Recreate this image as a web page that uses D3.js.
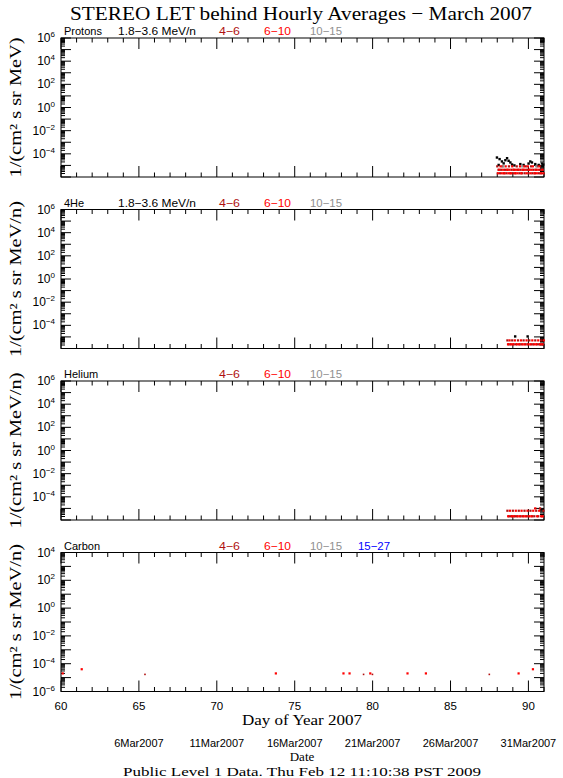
<!DOCTYPE html>
<html><head><meta charset="utf-8">
<script src="https://cdn.jsdelivr.net/npm/d3@7"></script>
<style>body{margin:0;background:#fff}svg{display:block}</style>
</head><body><svg id="c" width="563" height="778"></svg>
<script>
// ---------- data ----------
const title = "STEREO LET behind Hourly Averages \u2212 March 2007";
const panelNames = ["Protons", "4He", "Helium", "Carbon"];
const yTitles = ["1/(cm\u00b2 s sr MeV)", "1/(cm\u00b2 s sr MeV/n)", "1/(cm\u00b2 s sr MeV/n)", "1/(cm\u00b2 s sr MeV/n)"];
const energyLabels = ["1.8\u22123.6 MeV/n", "4\u22126", "6\u221210", "10\u221215", "15\u221227"];
const seriesColors = ["#000000", "#b01010", "#ff0000", "#909090", "#0000ff"];
const panelSeries = [[0,1,2,3],[0,1,2,3],[1,2,3],[1,2,3,4]];
const yDomains = [[1e-6,1e6],[1e-6,1e6],[1e-6,1e6],[1e-6,1e4]];
const dayTicks = [60,65,70,75,80,85,90];
const dateLabels = ["6Mar2007","11Mar2007","16Mar2007","21Mar2007","26Mar2007","31Mar2007"];
const dateDays = [65,70,75,80,85,90];

// Protons
const protons18 = [[87.98,4.8e-5],[88.09,1.1e-5],[88.15,3.5e-5],[88.30,2.2e-5],[88.41,1.5e-5],[88.52,2.8e-5],[88.63,4.2e-5],[88.73,2.5e-5],[88.84,1.8e-5],[88.95,1.2e-5],[89.10,1.0e-5],[89.48,1.3e-5],[89.69,1.1e-5],[90.01,1.45e-5],[90.12,2.2e-5],[90.23,1.8e-5],[90.44,1.3e-5],[90.66,1.1e-5],[90.87,1.45e-5],[90.95,1.2e-5]];
const protons46 = [[88.00,8.3e-6],[88.08,4.2e-6],[88.17,2.1e-6],[88.25,4.2e-6],[88.33,8.3e-6],[88.42,2.1e-6],[88.50,4.2e-6],[88.58,2.1e-6],[88.67,4.2e-6],[88.75,8.3e-6],[88.83,2.1e-6],[88.92,4.2e-6],[89.00,2.1e-6],[89.08,4.2e-6],[89.17,2.1e-6],[89.25,8.3e-6],[89.33,4.2e-6],[89.42,2.1e-6],[89.50,4.2e-6],[89.58,2.1e-6],[89.67,4.2e-6],[89.75,2.1e-6],[89.83,8.3e-6],[89.92,4.2e-6],[90.00,2.1e-6],[90.08,4.2e-6],[90.17,8.3e-6],[90.25,2.1e-6],[90.33,4.2e-6],[90.42,2.1e-6],[90.50,4.2e-6],[90.58,8.3e-6],[90.67,2.1e-6],[90.75,4.2e-6],[90.83,2.1e-6],[90.92,4.2e-6]];
const protons610 = [[88.04,2.1e-6],[88.13,4.2e-6],[88.21,8.3e-6],[88.29,2.1e-6],[88.38,4.2e-6],[88.46,2.1e-6],[88.54,8.3e-6],[88.63,4.2e-6],[88.71,2.1e-6],[88.79,4.2e-6],[88.88,2.1e-6],[88.96,8.3e-6],[89.04,4.2e-6],[89.13,2.1e-6],[89.21,4.2e-6],[89.29,2.1e-6],[89.38,4.2e-6],[89.46,8.3e-6],[89.54,2.1e-6],[89.63,4.2e-6],[89.71,8.3e-6],[89.79,4.2e-6],[89.88,2.1e-6],[89.96,8.3e-6],[90.04,4.2e-6],[90.13,2.1e-6],[90.21,4.2e-6],[90.29,8.3e-6],[90.38,2.1e-6],[90.46,4.2e-6],[90.54,2.1e-6],[90.63,4.2e-6],[90.71,8.3e-6],[90.79,2.1e-6],[90.88,4.2e-6],[90.96,2.1e-6]];
const protons1015 = [[88.40,8.3e-6],[89.60,8.3e-6],[90.50,8.3e-6]];
// 4He
const he4_18 = [[89.15,1.1e-5],[89.95,1.1e-5]];
const he4_46 = [[88.65,5.0e-6],[88.73,2.3e-6],[88.85,2.3e-6],[88.96,5.0e-6],[89.06,2.3e-6],[89.21,2.3e-6],[89.33,5.0e-6],[89.44,2.3e-6],[89.56,2.3e-6],[89.69,5.0e-6],[89.81,2.3e-6],[89.94,2.3e-6],[90.06,5.0e-6],[90.19,2.3e-6],[90.31,2.3e-6],[90.44,5.0e-6],[90.56,2.3e-6],[90.69,2.3e-6],[90.81,5.0e-6],[90.94,2.3e-6]];
const he4_610 = [[88.69,2.3e-6],[88.79,5.0e-6],[88.90,2.3e-6],[89.02,2.3e-6],[89.13,5.0e-6],[89.27,2.3e-6],[89.40,2.3e-6],[89.52,5.0e-6],[89.63,2.3e-6],[89.75,2.3e-6],[89.88,5.0e-6],[90.00,2.3e-6],[90.13,2.3e-6],[90.25,5.0e-6],[90.38,2.3e-6],[90.50,2.3e-6],[90.63,5.0e-6],[90.75,2.3e-6],[90.88,2.3e-6],[90.98,5.0e-6]];
// Helium
const hel_46 = [[88.65,6.3e-6],[88.75,2.1e-6],[88.88,2.1e-6],[89.00,6.3e-6],[89.13,2.1e-6],[89.25,2.1e-6],[89.38,6.3e-6],[89.50,2.1e-6],[89.63,2.1e-6],[89.75,6.3e-6],[89.88,2.1e-6],[90.00,2.1e-6],[90.13,6.3e-6],[90.25,2.1e-6],[90.38,2.1e-6],[90.50,6.3e-6],[90.63,2.1e-6],[90.75,1.0e-5],[90.88,2.1e-6],[90.96,6.3e-6]];
const hel_610 = [[88.70,2.1e-6],[88.81,6.3e-6],[88.94,2.1e-6],[89.06,2.1e-6],[89.19,6.3e-6],[89.31,2.1e-6],[89.44,2.1e-6],[89.56,6.3e-6],[89.69,2.1e-6],[89.81,2.1e-6],[89.94,6.3e-6],[90.06,2.1e-6],[90.19,2.1e-6],[90.31,6.3e-6],[90.44,1.0e-5],[90.56,2.1e-6],[90.69,6.3e-6],[90.81,2.1e-6],[90.92,2.1e-6]];
// Carbon
const carb_46 = [[65.39,1.7e-5],[79.42,1.7e-5],[79.99,1.7e-5],[87.49,1.7e-5]];
const carb_610 = [[60.11,2.0e-5],[61.33,4.0e-5],[73.79,2.0e-5],[78.13,2.0e-5],[78.52,2.0e-5],[79.85,2.0e-5],[82.24,2.0e-5],[83.42,2.0e-5],[89.37,2.0e-5],[90.29,4.0e-5]];

const panelData = [
  [protons18, protons46, protons610, protons1015],
  [he4_18, he4_46, he4_610],
  [hel_46, hel_610],
  [carb_46, carb_610]
];
const panelDataSeries = [[0,1,2,3],[0,1,2],[1,2],[1,2]];
const markerSize = [2.4, 2.2, 2.2, 2.2, 2.2];

// ---------- layout ----------
const svg = d3.select("#c");
const L = 61, R = 544;
const tops = [38, 209.5, 381, 552.5];
const H = 139;
const x = d3.scaleLinear().domain([60, 91]).range([L, R]);
const serif = "'Liberation Serif','DejaVu Serif',serif";
const sans = "'Liberation Sans','DejaVu Sans',sans-serif";

svg.append("text").attr("x", 301).attr("y", 20).attr("text-anchor", "middle")
  .attr("font-family", serif).attr("font-size", 19)
  .attr("textLength", 462).attr("lengthAdjust", "spacingAndGlyphs").text(title);

const legendX = [[118,196],[219,240],[264,291],[310,342],[358,390]];
const yTitleLen = [140, 156, 156, 156];

panelNames.forEach((name, p) => {
  const top = tops[p], bot = top + H;
  const y = d3.scaleLog().domain(yDomains[p]).range([bot, top]);
  const g = svg.append("g");
  const lo = Math.round(Math.log10(yDomains[p][0])), hi = Math.round(Math.log10(yDomains[p][1]));

  // y ticks
  for (let d = lo; d <= hi; d++) {
    const yy = y(Math.pow(10, d));
    g.append("line").attr("x1", L).attr("x2", L + 10).attr("y1", yy).attr("y2", yy).attr("stroke", "#000");
    g.append("line").attr("x1", R - 10).attr("x2", R).attr("y1", yy).attr("y2", yy).attr("stroke", "#000");
    if (d < hi) for (let k = 2; k <= 9; k++) {
      const ym = y(k * Math.pow(10, d));
      g.append("line").attr("x1", L).attr("x2", L + 4).attr("y1", ym).attr("y2", ym).attr("stroke", "#000");
      g.append("line").attr("x1", R - 4).attr("x2", R).attr("y1", ym).attr("y2", ym).attr("stroke", "#000");
    }
    const showLabel = ((hi - d) % 2 === 0) && (d > lo || p === 3);
    if (showLabel) {
      const t = g.append("text").attr("x", 55).attr("y", yy + 4).attr("text-anchor", "end")
        .attr("font-family", sans).attr("font-size", 12);
      t.append("tspan").text("10");
      t.append("tspan").attr("dy", -5).attr("font-size", 8).text(d < 0 ? "\u2212" + (-d) : String(d));
    }
  }
  // x ticks
  for (let dd = 60; dd <= 91; dd++) {
    const len = dd % 5 === 0 ? 11 : 4.5;
    const xx = x(dd);
    g.append("line").attr("x1", xx).attr("x2", xx).attr("y1", top).attr("y2", top + len).attr("stroke", "#000");
    g.append("line").attr("x1", xx).attr("x2", xx).attr("y1", bot).attr("y2", bot - len).attr("stroke", "#000");
  }
  // frame
  g.append("rect").attr("x", L).attr("y", top).attr("width", R - L).attr("height", H)
    .attr("fill", "none").attr("stroke", "#000").attr("stroke-width", 1);

  // legend
  g.append("text").attr("x", 64).attr("y", top - 3).attr("font-family", sans).attr("font-size", 11)
    .text(name);
  panelSeries[p].forEach(s => {
    g.append("text").attr("x", legendX[s][0]).attr("y", top - 3).attr("font-family", sans).attr("font-size", 11)
      .attr("fill", seriesColors[s]).attr("textLength", legendX[s][1] - legendX[s][0])
      .attr("lengthAdjust", "spacingAndGlyphs").text(energyLabels[s]);
  });

  // y title
  g.append("text").attr("transform", `translate(21,${top + H / 2}) rotate(-90)`).attr("text-anchor", "middle")
    .attr("font-family", serif).attr("font-size", 16)
    .attr("textLength", yTitleLen[p]).attr("lengthAdjust", "spacingAndGlyphs").text(yTitles[p]);

  // data
  panelData[p].forEach((arr, i) => {
    const s = panelDataSeries[p][i];
    const sz = (p === 3 && s === 1) ? 1.6 : markerSize[s];
    g.selectAll(null).data(arr).enter().append("rect")
      .attr("x", d => x(d[0]) - sz / 2).attr("y", d => y(d[1]) - sz / 2)
      .attr("width", sz).attr("height", sz).attr("fill", seriesColors[s]);
  });

  if (p === 3) {
    dayTicks.forEach(dd => {
      g.append("text").attr("x", x(dd)).attr("y", bot + 18).attr("text-anchor", "middle")
        .attr("font-family", sans).attr("font-size", 11.5).text(dd);
    });
    g.append("text").attr("x", 302).attr("y", bot + 33).attr("text-anchor", "middle")
      .attr("font-family", serif).attr("font-size", 14.5)
      .attr("textLength", 120).attr("lengthAdjust", "spacingAndGlyphs").text("Day of Year 2007");
    dateLabels.forEach((lab, i) => {
      g.append("text").attr("x", x(dateDays[i])).attr("y", bot + 55).attr("text-anchor", "middle")
        .attr("font-family", sans).attr("font-size", 11).text(lab);
    });
    g.append("text").attr("x", 302).attr("y", bot + 69).attr("text-anchor", "middle")
      .attr("font-family", serif).attr("font-size", 13).text("Date");
    g.append("text").attr("x", 302).attr("y", bot + 84).attr("text-anchor", "middle")
      .attr("font-family", serif).attr("font-size", 13)
      .attr("textLength", 358).attr("lengthAdjust", "spacingAndGlyphs")
      .text("Public Level 1 Data. Thu Feb 12 11:10:38 PST 2009");
  }
});
</script></body></html>
